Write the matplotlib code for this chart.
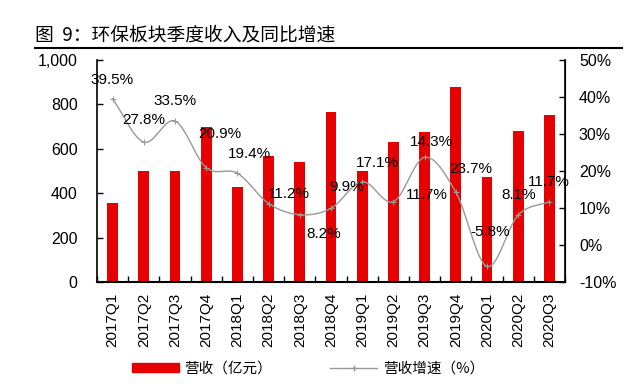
import numpy as np
import matplotlib
matplotlib.use('Agg')
import matplotlib.pyplot as plt
from matplotlib.lines import Line2D
from matplotlib.patches import Patch

plt.rcParams['font.family'] = ['Liberation Sans', 'Noto Sans CJK SC', 'DejaVu Sans']

# Data
quarters = ['2017Q1', '2017Q2', '2017Q3', '2017Q4', '2018Q1', '2018Q2', '2018Q3', '2018Q4',
            '2019Q1', '2019Q2', '2019Q3', '2019Q4', '2020Q1', '2020Q2', '2020Q3']
revenue = [357, 501, 501, 698, 429, 567, 542, 768, 501, 629, 674, 880, 471, 680, 751]   # 亿元
growth = [39.5, 27.8, 33.5, 20.9, 19.4, 11.2, 8.2, 9.9, 17.1, 11.7, 23.7, 14.3, -5.8, 8.1, 11.7]  # %
growth_labels = ['39.5%', '27.8%', '33.5%', '20.9%', '19.4%', '11.2%', '8.2%', '9.9%',
                 '17.1%', '11.7%', '14.3%', '23.7%', '-5.8%', '8.1%', '11.7%']
# label offsets from point (pixels, x right / y up)
label_off = [(-1, 19), (0, 22), (0, 20), (14, 34), (12, 19), (20, 10), (24, -19), (16, 21),
             (15, 19), (33, 7), (7, 15), (15, 23), (3, 34), (0, 20), (-1, 20)]

title = '图  9：环保板块季度收入及同比增速'

def smooth(x, y, n=20):
    # Catmull-Rom curve through the points, like Excel's smoothed line
    x = np.asarray(x, float); y = np.asarray(y, float)
    px = np.concatenate([[2*x[0]-x[1]], x, [2*x[-1]-x[-2]]])
    py = np.concatenate([[2*y[0]-y[1]], y, [2*y[-1]-y[-2]]])
    xs, ys = [], []
    t = np.linspace(0, 1, n, endpoint=False)
    for i in range(1, len(px) - 2):
        for p, out in ((px, xs), (py, ys)):
            p0, p1, p2, p3 = p[i-1], p[i], p[i+1], p[i+2]
            out.extend(0.5*((2*p1) + (-p0+p2)*t + (2*p0-5*p1+4*p2-p3)*t**2 + (-p0+3*p1-3*p2+p3)*t**3))
    xs.append(x[-1]); ys.append(y[-1])
    return np.array(xs), np.array(ys)

fig = plt.figure(figsize=(6.4, 3.84), dpi=100)
ax = fig.add_axes([97/640, 1-282/384, (565-97)/640, (282-60)/384])
ax2 = ax.twinx()

xpos = np.arange(len(quarters))
ax.bar(xpos, revenue, width=0.35, color='#e60000', zorder=2)
ax.set_xlim(-0.5, len(quarters)-0.5)
ax.set_ylim(0, 1000)
ax.set_yticks(range(0, 1001, 200))
ax.set_yticklabels(['0', '200', '400', '600', '800', '1,000'], fontsize=11.5)
ax.set_xticks(xpos)
ax.set_xticklabels(quarters, rotation=90, fontsize=11)
ax.set_xticks(np.arange(-0.5, len(quarters)), minor=True)
ax.tick_params(axis='x', which='major', length=0, pad=8)
ax.tick_params(axis='x', which='minor', direction='in', length=4, width=1)
ax.tick_params(axis='y', direction='in', length=4, width=1, pad=14)
ax.spines['top'].set_visible(False)
ax2.spines['top'].set_visible(False)
ax.spines['bottom'].set_linewidth(1.5)
ax.spines['left'].set_linewidth(1.2)
ax2.spines['right'].set_linewidth(1.2)
ax2.spines['left'].set_visible(False)
ax2.spines['bottom'].set_visible(False)

sx, sy = smooth(xpos, growth)
ax2.plot(sx, sy, color='#999999', lw=1.0, zorder=3)
ax2.plot(xpos, growth, ls='none', marker='+', ms=4, mew=0.8, color='#999999', zorder=3)
ax2.set_ylim(-10, 50)
ax2.set_yticks(range(-10, 51, 10))
ax2.set_yticklabels(['%d%%' % v for v in range(-10, 51, 10)], fontsize=11.5)
ax2.tick_params(axis='y', direction='in', length=4, width=1, pad=10)

for i, (v, txt) in enumerate(zip(growth, growth_labels)):
    dx, dy = label_off[i]
    ax2.annotate(txt, (xpos[i], v), xytext=(dx*0.72, dy*0.72), textcoords='offset points',
                 ha='center', va='center', fontsize=11, color='black', zorder=4)

# title and rule
fig.text(35/640, 1-35/384, title, fontsize=13.5, va='center', ha='left',
         family=['Noto Sans CJK SC', 'DejaVu Sans'])
fig.add_artist(Line2D([35/640, 622/640], [1-48/384, 1-48/384], color='black', lw=1.5))

handles = [Patch(color='#e60000'),
           Line2D([], [], color='#999999', lw=1, marker='+', ms=4)]
leg = fig.legend(handles, ['营收（亿元）', '营收增速（%）'], loc='center',
                 bbox_to_anchor=(308/640, 1-369/384), ncol=2, frameon=False,
                 prop={'family': ['Noto Sans CJK SC', 'DejaVu Sans'], 'size': 10.5},
                 handlelength=3.2, handleheight=0.6, columnspacing=4, handletextpad=0.4)

fig.savefig('out.png', dpi=100)
